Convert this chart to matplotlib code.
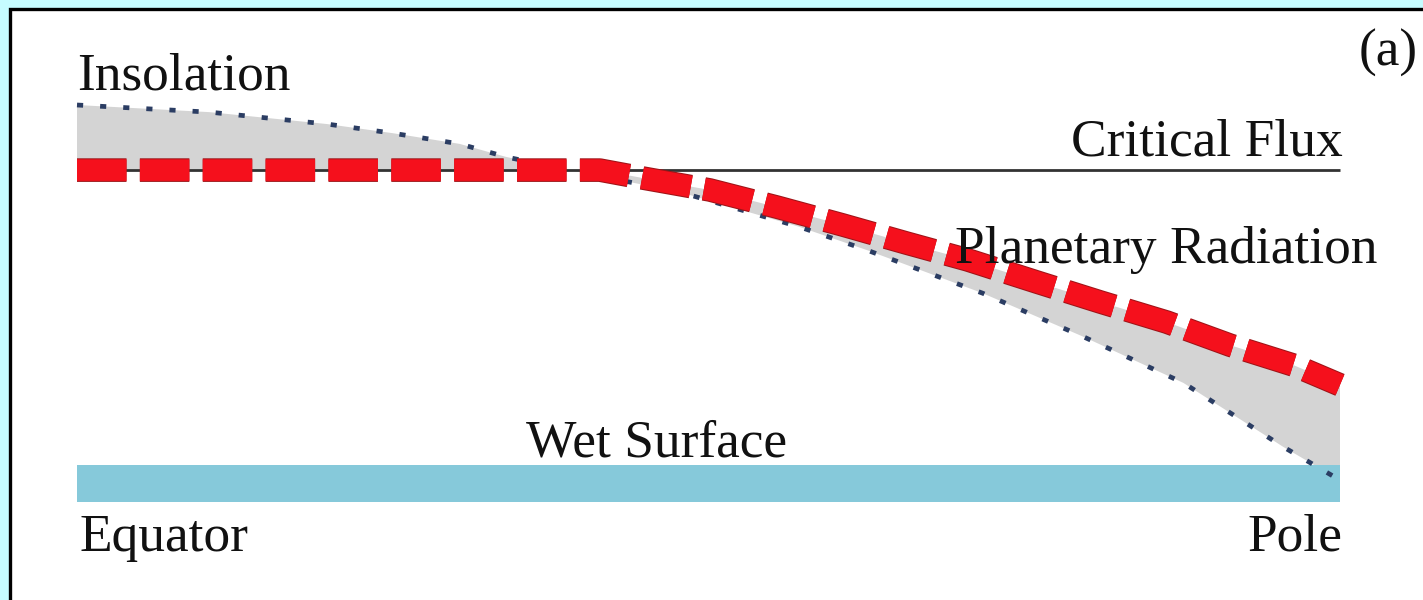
#!/usr/bin/env python3
# schematic: insolation vs planetary radiation, equator to pole

import numpy as np
import matplotlib
matplotlib.use("Agg")
import matplotlib.pyplot as plt
import matplotlib.patheffects as pe
from matplotlib.patches import Rectangle

# —— data (x: 0 = equator, 1 = pole; y: flux, arbitrary units) ——
insol_x = [0.0, 0.105, 0.198, 0.250, 0.303, 0.340, 0.382, 0.477, 0.572, 0.625,
           0.717, 0.797, 0.876, 0.955, 1.0]
insol_y = [100.0, 98.2, 95.2, 92.9, 90.2, 86.9, 84.1, 78.1, 69.3, 63.5,
           52.6, 41.6, 30.0, 13.9, 5.5]

rad_x = [0.0, 0.414, 0.448, 0.501, 0.554, 0.606, 0.657, 0.705, 0.760, 0.810,
         0.863, 0.913, 0.963, 1.0]
rad_y = [83.6, 83.6, 81.6, 78.6, 74.3, 69.8, 65.2, 61.0, 55.4, 50.4,
         45.3, 39.5, 34.5, 29.5]

critical_flux = 83.6
surface_x = [0.0, 1.0]
surface_top = 9.3

labels = {
    "insolation": "Insolation",
    "critical": "Critical Flux",
    "radiation": "Planetary Radiation",
    "surface": "Wet Surface",
    "equator": "Equator",
    "pole": "Pole",
    "panel": "(a)",
}


def main():
    W, H = 1423, 600
    fig = plt.figure(figsize=(W / 100, H / 100), dpi=100)
    fig.patch.set_facecolor("#c6fcff")

    # white panel with black left/top frame (right and bottom run off the image)
    fig.patches.append(Rectangle((10 / W, -0.1), 1.2, (H - 8.5) / H + 0.1,
                                 transform=fig.transFigure, facecolor="white",
                                 edgecolor="black", linewidth=2.4, zorder=-5))

    ax = fig.add_axes([0, 0, 1, 1])
    ax.set_zorder(5)
    ax.set_facecolor("none")
    ax.axis("off")
    # equator at px 77, pole at px 1340; y: px 502 -> 0, px 105 -> 100
    sx = 1263.0
    sy = 3.97
    ax.set_xlim(-77 / sx, (W - 77) / sx)
    ax.set_ylim(-(H - 502) / sy, 502 / sy)

    # gray area between insolation and outgoing radiation
    ax.fill(np.r_[insol_x, rad_x[::-1]], np.r_[insol_y, rad_y[::-1]],
            color="#d4d4d4", linewidth=0, zorder=1)

    # wet surface strip
    ax.fill_between(surface_x, 0, surface_top, color="#86c9da", linewidth=0, zorder=1)

    # critical flux line
    ax.plot([0, 1], [critical_flux, critical_flux], color="#333333", lw=2.0,
            solid_capstyle="butt", zorder=2)

    # insolation (dotted)
    ax.plot(insol_x, insol_y, color="#2b3d63", lw=3.4, dashes=(1.3, 3.6),
            dash_capstyle="butt", zorder=3)

    # planetary radiation (thick red dashed)
    ax.plot(rad_x, rad_y, color="#f5101c", lw=15.5, dashes=(2.3, 0.62),
            dash_capstyle="butt", solid_joinstyle="miter", zorder=4,
            path_effects=[pe.Stroke(linewidth=17, foreground="#9e1418"), pe.Normal()])

    tkw = dict(family=["Liberation Serif", "DejaVu Serif"], fontsize=38.4,
               color="#111111", va="baseline", zorder=6)
    ax.text(0.0, 103.8, labels["insolation"], ha="left", **tkw)
    ax.text(1.002, 87.4, labels["critical"], ha="right", **tkw)
    ax.text(0.695, 60.2, labels["radiation"], ha="left", **tkw)
    ax.text(0.459, 11.5, labels["surface"], ha="center", **tkw)
    ax.text(0.002, -12.3, labels["equator"], ha="left", **tkw)
    ax.text(1.002, -12.3, labels["pole"], ha="right", **tkw)
    ax.text(1.015, 110.0, labels["panel"], ha="left", **tkw)

    fig.savefig("out.png", dpi=100, facecolor=fig.get_facecolor())


if __name__ == '__main__':
    main()
